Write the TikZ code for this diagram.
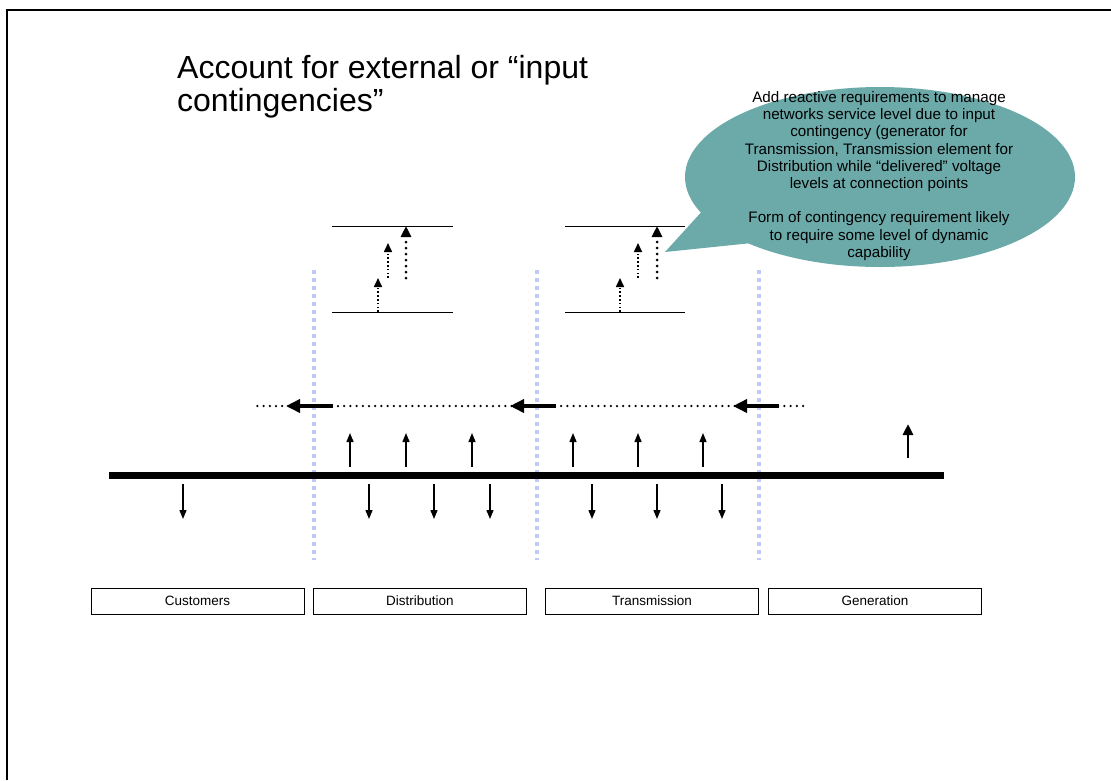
\documentclass[tikz,border=0pt]{standalone}
\usepackage{fontspec}
\setmainfont{Liberation Sans}
\usetikzlibrary{arrows.meta}
\definecolor{callteal}{RGB}{108,170,170}
\definecolor{zoneblue}{RGB}{192,200,246}

\begin{document}
\begin{tikzpicture}[x=1pt,y=-1pt,
  frameline/.style={line width=2.5pt},
  busline/.style={line width=7pt},
  zonebox/.style={draw, line width=0.8pt, minimum width=213pt, minimum height=26pt,
    inner sep=0pt, font=\fontsize{13.5}{16}\selectfont},
  zonesep/.style={draw=zoneblue, line width=4pt, dash pattern=on 4pt off 4pt},
  flowup/.style={line width=1.3pt, -{Triangle[length=9pt,width=7pt]}},
  flowdown/.style={line width=1.3pt, -{Triangle[length=9pt,width=7pt]}},
  genup/.style={line width=2.8pt, -{Triangle[length=11pt,width=10pt]}},
  chainline/.style={line width=2.5pt, line cap=round, dash pattern=on 0pt off 6.2pt},
  chainhead/.style={line width=4pt, -{Triangle[length=14pt,width=13pt]}},
  levelline/.style={line width=0.9pt},
  riseA/.style={line width=1.6pt, dash pattern=on 1.6pt off 2.2pt,
    -{Triangle[length=9pt,width=8pt]}},
  riseB/.style={line width=3pt, line cap=round, dash pattern=on 0pt off 6pt,
    -{Triangle[length=11pt,width=10pt]}},
]
\useasboundingbox (0,0) rectangle (1111,780);

% slide frame
\coordinate (fTL) at (7,10);
\coordinate (fTR) at (1111,10);
\coordinate (fBL) at (7,780);
\draw[frameline] (fBL) -- (fTL) -- (fTR);

% title (base anchor sits on the last line)
\node[anchor=base west, align=left, inner sep=0pt,
  font=\fontsize{32}{33}\selectfont] (title) at (177,111)
  {Account for external or “input\\contingencies”};

% callout bubble
\fill[callteal] (880,177) ellipse (195 and 90);
\fill[callteal] (705,208) -- (665,252) -- (752,243) -- cycle;
\node[align=center, inner sep=0pt, font=\fontsize{15.2}{17.2}\selectfont] (note) at (879,176)
  {Add reactive requirements to manage\\
   networks service level due to input\\
   contingency (generator for\\
   Transmission, Transmission element for\\
   Distribution while “delivered” voltage\\
   levels at connection points\\[17.2pt]
   Form of contingency requirement likely\\
   to require some level of dynamic\\
   capability};

% zone separators
\foreach \x/\n in {314/s1, 537/s2, 759/s3} {
  \coordinate (\n t) at (\x,270);
  \coordinate (\n b) at (\x,560);
  \draw[zonesep] (\n t) -- (\n b);
}

% level diagrams
\foreach \xa/\xb/\n in {332/453/d, 565/685/t} {
  \coordinate (\n hiL) at (\xa,226);
  \coordinate (\n hiR) at (\xb,226);
  \coordinate (\n loL) at (\xa,312);
  \coordinate (\n loR) at (\xb,312);
  \draw[levelline] (\n hiL) -- (\n hiR);
  \draw[levelline] (\n loL) -- (\n loR);
}
\foreach \xa/\xb/\xc/\n in {378/388/406/d, 620/638/657/t} {
  \coordinate (\n a0) at (\xa,312);
  \coordinate (\n a1) at (\xa,278);
  \coordinate (\n b0) at (\xb,278);
  \coordinate (\n b1) at (\xb,243);
  \coordinate (\n c0) at (\xc,278);
  \coordinate (\n c1) at (\xc,226);
  \draw[riseA] (\n a0) -- (\n a1);
  \draw[riseA] (\n b0) -- (\n b1);
  \draw[riseB] (\n c0) -- (\n c1);
}

% power flow chain
\coordinate (chR) at (803,406);
\coordinate (chL) at (257,406);
\draw[chainline] (chR) -- (chL);
\foreach \xa/\xb/\n in {333/286/h1, 556/510/h2, 779/733/h3} {
  \coordinate (\n s) at (\xa,406);
  \coordinate (\n e) at (\xb,406);
  \draw[chainhead] (\n s) -- (\n e);
}

% bus bar
\coordinate (busL) at (109,475);
\coordinate (busR) at (944,475);
\draw[busline] (busL) -- (busR);

% injections and withdrawals
\foreach \x [count=\i] in {350,406,472,573,638,703} {
  \coordinate (u\i a) at (\x,467);
  \coordinate (u\i b) at (\x,433);
  \draw[flowup] (u\i a) -- (u\i b);
}
\foreach \x [count=\i] in {183,369,434,490,592,657,722} {
  \coordinate (w\i a) at (\x,484);
  \coordinate (w\i b) at (\x,519);
  \draw[flowdown] (w\i a) -- (w\i b);
}
\coordinate (g0) at (908,458);
\coordinate (g1) at (908,424);
\draw[genup] (g0) -- (g1);

% zone labels
\node[zonebox] (cust)  at (197.5,601) {Customers};
\node[zonebox] (dist)  at (420,601)   {Distribution};
\node[zonebox] (trans) at (652,601)   {Transmission};
\node[zonebox] (gen)   at (875,601)   {Generation};
\end{tikzpicture}
\end{document}
